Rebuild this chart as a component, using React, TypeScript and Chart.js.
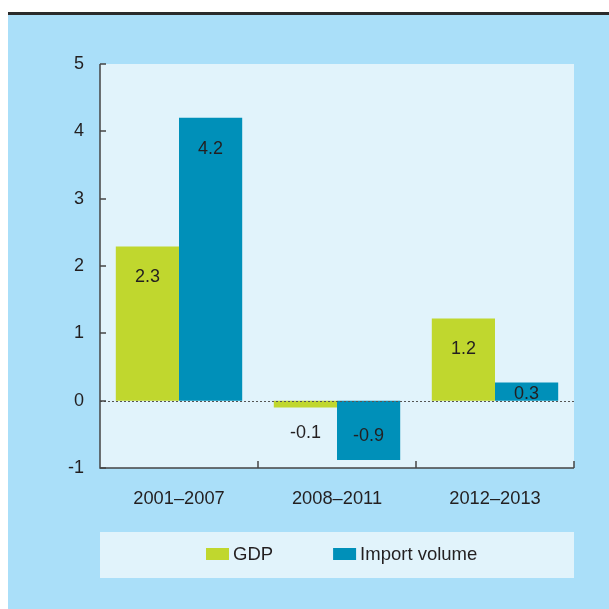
import React, { useEffect, useRef } from "react";
import { Chart, registerables } from "chart.js";

Chart.register(...registerables);

const categories = ["2001\u20132007", "2008\u20132011", "2012\u20132013"];
const gdpValues = [2.29, -0.1, 1.22];
const importValues = [4.2, -0.88, 0.27];
const yTickMin = -1;
const yTickMax = 5;
const seriesNames = ["GDP", "Import volume"];
const seriesColors = ["#c0d72e", "#0090b9"];

const FONT = "'Liberation Sans', Arial, sans-serif";
const TEXT = "#231f20";

const decorPlugin = {
  id: "decor",
  beforeDraw(chart: any) {
    const { ctx, chartArea: a, width, height } = chart;
    ctx.save();
    ctx.fillStyle = "#ffffff";
    ctx.fillRect(0, 0, width, height);
    ctx.fillStyle = "#2b2b2b";
    ctx.fillRect(0, 4, width, 3);
    ctx.fillStyle = "#aadff9";
    ctx.fillRect(0, 7, width, height - 7);
    ctx.fillStyle = "#e1f3fb";
    ctx.fillRect(a.left, a.top, a.right - a.left, a.bottom - a.top);
    ctx.fillRect(a.left, 524, a.right - a.left, 46);
    ctx.restore();
  },
  afterDatasetsDraw(chart: any) {
    const { ctx, chartArea: a, scales } = chart;
    const y = scales.y;
    ctx.save();
    // zero dotted line
    const y0 = Math.round(y.getPixelForValue(0)) + 0.5;
    ctx.strokeStyle = "#555";
    ctx.lineWidth = 1;
    ctx.setLineDash([2, 2]);
    ctx.beginPath();
    ctx.moveTo(a.left, y0);
    ctx.lineTo(a.right, y0);
    ctx.stroke();
    ctx.setLineDash([]);

    // axes
    ctx.strokeStyle = "#444";
    ctx.lineWidth = 1.5;
    ctx.beginPath();
    ctx.moveTo(a.left, a.top);
    ctx.lineTo(a.left, a.bottom);
    ctx.lineTo(a.right, a.bottom);
    ctx.stroke();
    // y ticks inward
    y.ticks.forEach((t: any) => {
      const py = Math.round(y.getPixelForValue(t.value));
      ctx.beginPath();
      ctx.moveTo(a.left, py);
      ctx.lineTo(a.left + 6, py);
      ctx.stroke();
    });
    // x ticks at category boundaries
    const n = chart.data.labels.length;
    const w = (a.right - a.left) / n;
    for (let i = 1; i <= n; i++) {
      const px = Math.round(a.left + i * w);
      ctx.beginPath();
      ctx.moveTo(px, a.bottom);
      ctx.lineTo(px, a.bottom - 7);
      ctx.stroke();
    }

    // value labels
    ctx.fillStyle = TEXT;
    ctx.font = `18px ${FONT}`;
    ctx.textAlign = "center";
    ctx.textBaseline = "middle";
    chart.data.datasets.forEach((ds: any, di: number) => {
      const meta = chart.getDatasetMeta(di);
      meta.data.forEach((bar: any, j: number) => {
        const v = ds.data[j];
        const base = bar.base;
        let ly;
        if (v >= 0) {
          ly = bar.y + Math.min(30, (base - bar.y) / 2 + 1);
        } else {
          const h = bar.y - base;
          ly = h > 40 ? bar.y - 25 : bar.y + 25;
        }
        ctx.fillText(v.toFixed(1), bar.x, ly + 1);
      });
    });

    // legend
    ctx.font = `18.5px ${FONT}`;
    ctx.textAlign = "left";
    let lx = a.left + 106;
    const ly = 546;
    chart.data.datasets.forEach((ds: any) => {
      ctx.fillStyle = ds.backgroundColor;
      ctx.fillRect(lx, ly - 6, 23, 12);
      ctx.fillStyle = TEXT;
      ctx.fillText(ds.label, lx + 27, ly + 1);
      lx += 27 + ctx.measureText(ds.label).width + 60;
    });
    ctx.restore();
  },
};

export default function App() {
  const ref = useRef<HTMLCanvasElement>(null);
  useEffect(() => {
    if (!ref.current) return;
    const chart = new Chart(ref.current, {
      type: "bar",
      data: {
        labels: categories,
        datasets: [
          {
            label: seriesNames[0],
            data: gdpValues,
            backgroundColor: seriesColors[0],
            categoryPercentage: 0.8,
            barPercentage: 1,
          },
          {
            label: seriesNames[1],
            data: importValues,
            backgroundColor: seriesColors[1],
            categoryPercentage: 0.8,
            barPercentage: 1,
          },
        ],
      },
      options: {
        responsive: false,
        animation: false,
        devicePixelRatio: 1,
        layout: { padding: { left: 0, right: 35, top: 56, bottom: 0 } },
        plugins: {
          legend: { display: false },
          tooltip: { enabled: false },
        },
        scales: {
          x: {
            grid: { display: false },
            border: { display: false },
            ticks: {
              color: TEXT,
              font: { family: FONT, size: 18.3 },
              padding: 12,
            },
            afterFit(scale: any) {
              scale.height = 141;
            },
          },
          y: {
            min: yTickMin,
            max: yTickMax,
            grid: { display: false },
            border: { display: false },
            ticks: {
              stepSize: 1,
              color: TEXT,
              font: { family: FONT, size: 18 },
              padding: 8,
              callback: (v: any) => String(v),
            },
            afterFit(scale: any) {
              scale.width = 92;
            },
          },
        },
      },
      plugins: [decorPlugin],
    } as any);
    return () => chart.destroy();
  }, []);
  return (
    <div style={{ position: "fixed", left: 8, top: 8, width: 601, height: 601 }}>
      <canvas ref={ref} width={601} height={601} style={{ width: 601, height: 601, display: "block" }} />
    </div>
  );
}
